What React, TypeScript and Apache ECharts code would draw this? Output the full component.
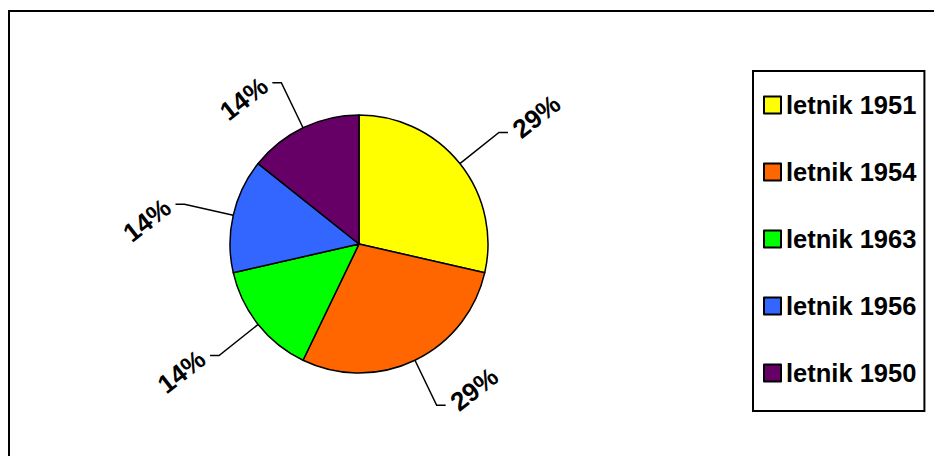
import React, { useEffect, useRef } from "react";
import * as echarts from "echarts";

const categories = ["letnik 1951", "letnik 1954", "letnik 1963", "letnik 1956", "letnik 1950"];
const values = [2, 2, 1, 1, 1];
const colors = ["#FFFF00", "#FF6600", "#00FF00", "#3366FF", "#660066"];

export default function App() {
  const ref = useRef<HTMLDivElement>(null);
  useEffect(() => {
    if (!ref.current) return;
    const chart = echarts.init(ref.current, undefined, { renderer: "svg" });
    chart.setOption({
      animation: false,
      backgroundColor: "#ffffff",
      graphic: [
        {
          type: "rect",
          shape: { x: 9, y: 11, width: 1000, height: 600 },
          style: { fill: "none", stroke: "#000", lineWidth: 2 },
          silent: true,
        },
      ],
      legend: {
        orient: "vertical",
        left: 753,
        top: 71,
        padding: [21, 8, 25, 10],
        itemGap: 41,
        itemWidth: 17,
        itemHeight: 17,
        borderColor: "#000",
        borderWidth: 2,
        icon: "rect",
        itemStyle: { borderColor: "#000", borderWidth: 2 },
        textStyle: {
          fontFamily: "Liberation Sans, Arial, sans-serif",
          fontWeight: "bold",
          fontSize: 25.5,
          lineHeight: 25,
          color: "#000",
        },
        data: categories,
      },
      series: [
        {
          type: "pie",
          center: [359, 244],
          radius: 129,
          startAngle: 90,
          clockwise: true,
          avoidLabelOverlap: false,
          data: categories.map((name, i) => ({
            name,
            value: values[i],
            itemStyle: { color: colors[i] },
          })),
          itemStyle: { borderColor: "#000", borderWidth: 1.5 },
          label: {
            show: true,
            position: "outside",
            rotate: 38,
            distanceToLabelLine: 8,
            formatter: (p: any) => Math.round(p.percent) + "%",
            fontFamily: "Liberation Sans, Arial, sans-serif",
            fontWeight: "bold",
            fontSize: 26,
            color: "#000",
          },
          labelLine: {
            show: true,
            length: 50,
            length2: 9,
            lineStyle: { color: "#000", width: 1.5 },
          },
          emphasis: { disabled: true },
        },
      ],
    });
    return () => chart.dispose();
  }, []);
  return (
    <div
      ref={ref}
      style={{ position: "absolute", left: 0, top: 0, width: 934, height: 456 }}
    />
  );
}
